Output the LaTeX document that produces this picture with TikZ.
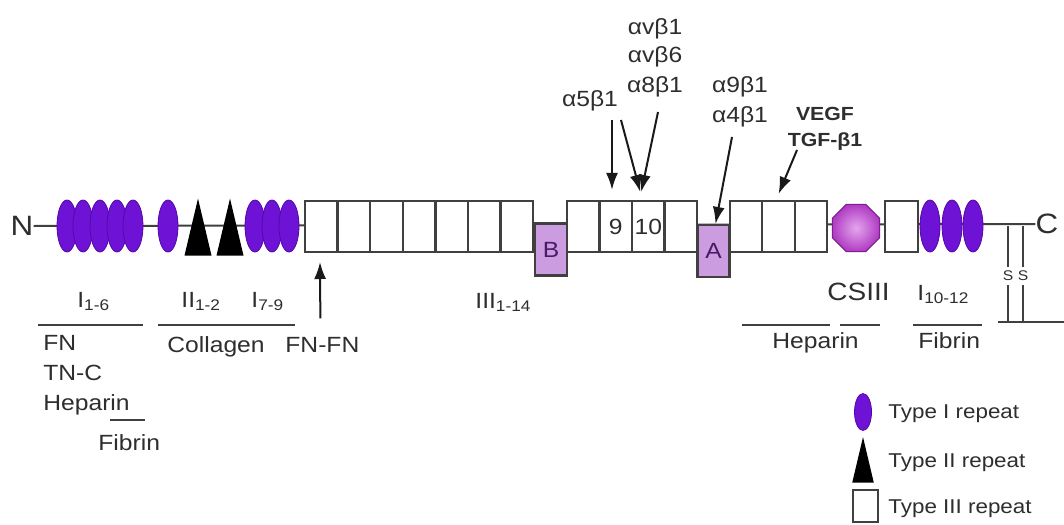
\documentclass[tikz,border=0pt]{standalone}
\usepackage{fontspec}
\setmainfont{Liberation Sans}[FakeStretch=1.12]
\usetikzlibrary{shapes.geometric,arrows.meta}

\definecolor{typeone}{HTML}{6E12D6}
\definecolor{typeoneline}{HTML}{5208A8}
\definecolor{lilac}{HTML}{CC9CE0}
\definecolor{modtext}{HTML}{4A1A6A}
\definecolor{octin}{HTML}{E4A6EC}
\definecolor{octout}{HTML}{B03CC4}
\definecolor{octline}{HTML}{7A2088}
\definecolor{linec}{HTML}{404040}
\definecolor{txt}{HTML}{2E2E2E}

\newcommand\labfont{\fontsize{11}{13}\selectfont}
\newcommand\termfont{\fontsize{14}{16}\selectfont}

\tikzset{
  backbone/.style={draw=linec, line width=1pt},
  repthree/.style={draw=linec, fill=white, line width=1.1pt, minimum width=16.25pt,
    minimum height=25.5pt, inner sep=0pt, font=\labfont, text=txt},
  repone/.style={ellipse, draw=typeoneline, fill=typeone, line width=0.4pt,
    minimum width=10pt, minimum height=26pt, inner sep=0pt},
  module/.style={draw=linec, fill=lilac, line width=1.1pt, minimum width=16pt,
    minimum height=26pt, inner sep=0pt, font=\labfont, text=modtext},
  lab/.style={font=\labfont, text=txt, inner sep=0pt},
  bindline/.style={draw=linec, line width=1pt},
  arr/.style={draw=black!90, line width=1pt, -{Latex[length=8.5pt,width=6pt]}},
  reptwo/.pic={\fill[black] (-13.5,29) -- (0,-28) -- (13.5,29) -- cycle;}
}

\begin{document}
\begin{tikzpicture}[x=0.5pt, y=-0.5pt]

    % Frame
    \path[fill=white, use as bounding box] (0,0) rectangle (1064,524);

    % Termini and backbone
    \node[lab, font=\termfont] (nterm) at (22,226) {N};
    \node[lab, font=\termfont] (cterm) at (1047,224) {C};
    \draw[backbone] (nterm.east) -- (cterm.west);

    % Type I repeats 1-6
    \foreach \x [count=\k] in {67,83,100,117,133}
        \node[repone] (ia\k) at (\x,226) {};
    \node[repone] (ib1) at (168,226) {};

    % Type II repeats
    \pic at (198,226.5) {reptwo};
    \pic at (230,226.5) {reptwo};

    % Type I repeats 7-9
    \foreach \x [count=\k] in {255,272,289}
        \node[repone] (ic\k) at (\x,226) {};

    % Type III repeats
    \foreach \k in {1,...,7}
        \node[repthree] (fa\k) at ({305+32.6*(\k-0.5)},226.5) {};
    \node[module] (edb) at (551,249.5) {B};
    \foreach \k/\t in {1/,2/9,3/10,4/}
        \node[repthree] (fb\k) at ({567+32.5*(\k-0.5)},226.5) {\t};
    \node[module] (eda) at (713.5,251) {A};
    \foreach \k in {1,2,3}
        \node[repthree] (fc\k) at ({730+32.4*(\k-0.5)},226.5) {};

    % CSIII
    \node[regular polygon, regular polygon sides=8, minimum size=25.5pt, inner sep=0pt,
        draw=octline, line width=0.5pt, inner color=octin, outer color=octout] (octa) at (856,228) {};
    \node[repthree] (fd1) at (901.5,226.5) {};

    % Type I repeats 10-12
    \foreach \x [count=\k] in {930,952,973}
        \node[repone] (ie\k) at (\x,226) {};

    % Disulfide bonds
    \node[lab, font=\fontsize{7}{8}\selectfont] (sa) at (1008,276) {S};
    \node[lab, font=\fontsize{7}{8}\selectfont] (sb) at (1023,276) {S};
    \coordinate (saup) at (1008,226);
    \coordinate (sbup) at (1023,226);
    \coordinate (sadn) at (1008,322);
    \coordinate (sbdn) at (1023,322);
    \coordinate (cbl) at (998,322);
    \coordinate (cbr) at (1064,322);
    \draw[bindline] (saup) -- ([yshift=2pt]sa.north) (sbup) -- ([yshift=2pt]sb.north);
    \draw[bindline] ([yshift=-2pt]sa.south) -- (sadn) ([yshift=-2pt]sb.south) -- (sbdn);
    \draw[bindline] (cbl) -- (cbr);

    % Module names
    \node[lab, anchor=base west] (lia) at (77,307) {I\textsubscript{1-6}};
    \node[lab, anchor=base west] (lib) at (181,307) {II\textsubscript{1-2}};
    \node[lab, anchor=base west] (lic) at (251,307) {I\textsubscript{7-9}};
    \node[lab, anchor=base west] (liii) at (475,308) {III\textsubscript{1-14}};
    \node[lab, anchor=base west, font=\fontsize{12.5}{14}\selectfont] (lcs) at (827,300) {CSIII};
    \node[lab, anchor=base west] (lie) at (917,300) {I\textsubscript{10-12}};

    % Binding partners, left
    \draw[bindline] (38,325) -- (143,325);
    \node[lab, anchor=base west] (bfn) at (43,350) {FN};
    \node[lab, anchor=base west] (btn) at (43,380) {TN-C};
    \node[lab, anchor=base west] (bhp) at (43,410) {Heparin};
    \draw[bindline] (110,420) -- (145,420);
    \node[lab, anchor=base west] (bfb) at (98,450) {Fibrin};
    \draw[bindline] (158,325) -- (295,325);
    \node[lab, anchor=base west] (bcol) at (167,352) {Collagen};
    \node[lab, anchor=base west] (bff) at (285,352) {FN-FN};
    \coordinate (fftip) at (320,262);
    \draw[arr] ([xshift=-1pt, yshift=9pt]bff.north) -- (fftip);

    % Binding partners, right
    \draw[bindline] (742,325) -- (830,325);
    \draw[bindline] (840,325) -- (880,325);
    \node[lab, anchor=base west] (bhp2) at (772,348) {Heparin};
    \draw[bindline] (913,325) -- (982,325);
    \node[lab, anchor=base west] (bfb2) at (918,348) {Fibrin};

    % Integrins and growth factors
    \node[lab, anchor=base] (ivb1) at (655,35) {αvβ1};
    \node[lab, anchor=base] (ivb6) at (655,63) {αvβ6};
    \node[lab, anchor=base] (i8b1) at (655,93) {α8β1};
    \node[lab, anchor=base] (i5b1) at (590,106) {α5β1};
    \node[lab, anchor=base] (i9b1) at (740,93) {α9β1};
    \node[lab, anchor=base] (i4b1) at (740,122) {α4β1};
    \node[lab, anchor=base, font=\fontsize{9.5}{11}\selectfont\bfseries] (vegf) at (825,120) {VEGF};
    \node[lab, anchor=base, font=\fontsize{9.5}{11}\selectfont\bfseries] (tgf) at (825,147) {TGF-β1};

    \coordinate (t5) at (612,120);
    \coordinate (tv) at (621,120);
    \coordinate (t8) at (658,112);
    \coordinate (t9) at (732,137);
    \coordinate (tg) at (797,150);
    \draw[arr] (t5) -- ([yshift=5pt]t5 |- fb2.north);
    \draw[arr] (tv) -- ([xshift=-4pt, yshift=4pt]fb3.north);
    \draw[arr] (t8) -- ([xshift=-3.5pt, yshift=4pt]fb3.north);
    \draw[arr] (t9) -- ([xshift=1pt]eda.north);
    \draw[arr] (tg) -- ([yshift=3pt]fc2.north);

    % Legend
    \node[repone, minimum width=8.5pt, minimum height=18.5pt] (kone) at (863,412) {};
    \node[lab, anchor=base west, font=\fontsize{10}{12}\selectfont] (kone-t) at (888,418) {Type I repeat};
    \pic[scale=0.8] at (863,459.5) {reptwo};
    \node[lab, anchor=base west, font=\fontsize{10}{12}\selectfont] (ktwo-t) at (888,467) {Type II repeat};
    \node[repthree, minimum width=12.5pt, minimum height=16pt] (kthree) at (865.5,506) {};
    \node[lab, anchor=base west, font=\fontsize{10}{12}\selectfont] (kthree-t) at (888,513) {Type III repeat};

\end{tikzpicture}
\end{document}
